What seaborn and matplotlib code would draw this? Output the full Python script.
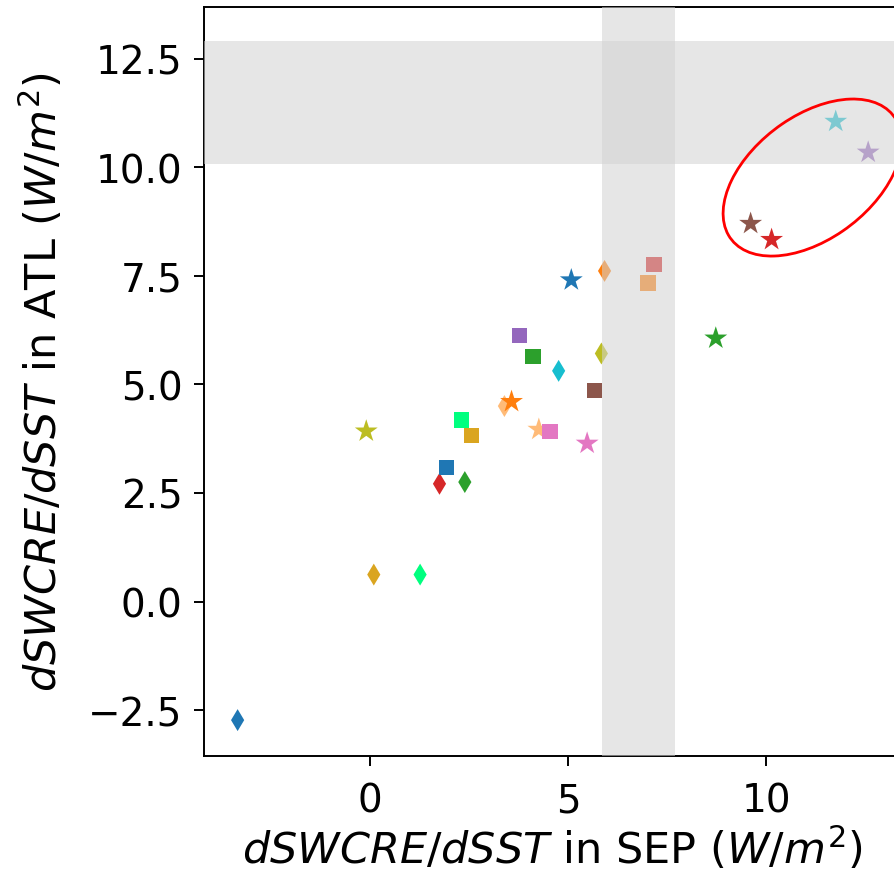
import numpy as np
import pandas as pd
import matplotlib
matplotlib.use("Agg")
import matplotlib.pyplot as plt
from matplotlib.patches import Ellipse
import seaborn as sns

# ---- model sensitivities (W/m^2 per K) ----
star_x = [11.76, 12.58, 9.61, 10.14, 5.08, 8.73, -0.10, 3.57, 4.26, 5.48]
star_y = [11.05, 10.34, 8.70, 8.33, 7.40, 6.06, 3.92, 4.60, 3.96, 3.64]
star_c = ["tab:cyan", "tab:purple", "tab:brown", "tab:red", "tab:blue",
          "tab:green", "tab:olive", "tab:orange", "#ffbb78", "tab:pink"]

square_x = [3.77, 4.11, 5.67, 2.31, 2.55, 4.54, 1.92, 7.17, 7.02]
square_y = [6.13, 5.64, 4.85, 4.18, 3.83, 3.92, 3.08, 7.76, 7.33]
square_c = ["tab:purple", "tab:green", "tab:brown", "springgreen", "goldenrod",
            "tab:pink", "tab:blue", "tab:red", "tab:orange"]

diamond_x = [5.92, 5.84, 4.76, 3.39, 1.75, 2.39, 0.09, 1.26, -3.35]
diamond_y = [7.61, 5.71, 5.31, 4.50, 2.71, 2.75, 0.62, 0.62, -2.73]
diamond_c = ["tab:orange", "tab:olive", "tab:cyan", "#ffbb78", "tab:red",
             "tab:green", "goldenrod", "springgreen", "tab:blue"]

# observational ranges
obs_sep = (5.86, 7.69)
obs_atl = (10.08, 12.90)

sns.set_style("white")
plt.rcParams["font.family"] = ["DejaVu Sans"]
plt.rcParams["mathtext.fontset"] = "dejavusans"
plt.rcParams["text.color"] = "black"
plt.rcParams["axes.labelcolor"] = "black"
plt.rcParams["xtick.color"] = "black"
plt.rcParams["ytick.color"] = "black"

fig = plt.figure(figsize=(8.95, 8.79), dpi=100)
ax = fig.add_axes([0.2279, 0.1391, 0.7784, 0.8515])

groups = [
    (diamond_x, diamond_y, diamond_c, "d", 125),
    (star_x, star_y, star_c, "*", 300),
    (square_x, square_y, square_c, "s", 120),
]
for xs, ys, cs, mk, sz in groups:
    df = pd.DataFrame({"x": xs, "y": ys, "c": cs})
    sns.scatterplot(data=df, x="x", y="y", hue="c",
                    palette={c: c for c in cs}, marker=mk, s=sz,
                    linewidth=0, legend=False, ax=ax, zorder=3)

ax.axvspan(*obs_sep, color="#d3d3d3", alpha=0.55, lw=0, zorder=4)
ax.axhspan(*obs_atl, color="#d3d3d3", alpha=0.55, lw=0, zorder=4)

ax.add_patch(Ellipse((11.17, 9.76), width=5.0, height=2.9, angle=32,
                     fill=False, edgecolor="red", lw=2.0, zorder=5,
                     clip_on=False))

ax.set_xlim(-4.2, 13.4)
ax.set_ylim(-3.55, 13.68)
ax.set_xticks([0, 5, 10])
ax.set_yticks([-2.5, 0.0, 2.5, 5.0, 7.5, 10.0, 12.5])
ax.set_yticklabels(["\u22122.5", "0.0", "2.5", "5.0", "7.5", "10.0", "12.5"])

ax.set_xlabel(r"$dSWCRE/dSST$ in SEP ($W/m^2$)", fontsize=31, labelpad=4)
ax.set_ylabel(r"$dSWCRE/dSST$ in ATL ($W/m^2$)", fontsize=31, labelpad=16)
ax.tick_params(axis="both", labelsize=28, length=7.5, width=1.4,
               direction="out", bottom=True, left=True)
ax.tick_params(axis="x", pad=11)
ax.tick_params(axis="y", pad=8)
for sp in ax.spines.values():
    sp.set_linewidth(1.4)
    sp.set_color("black")

fig.savefig("out.png", dpi=100)
